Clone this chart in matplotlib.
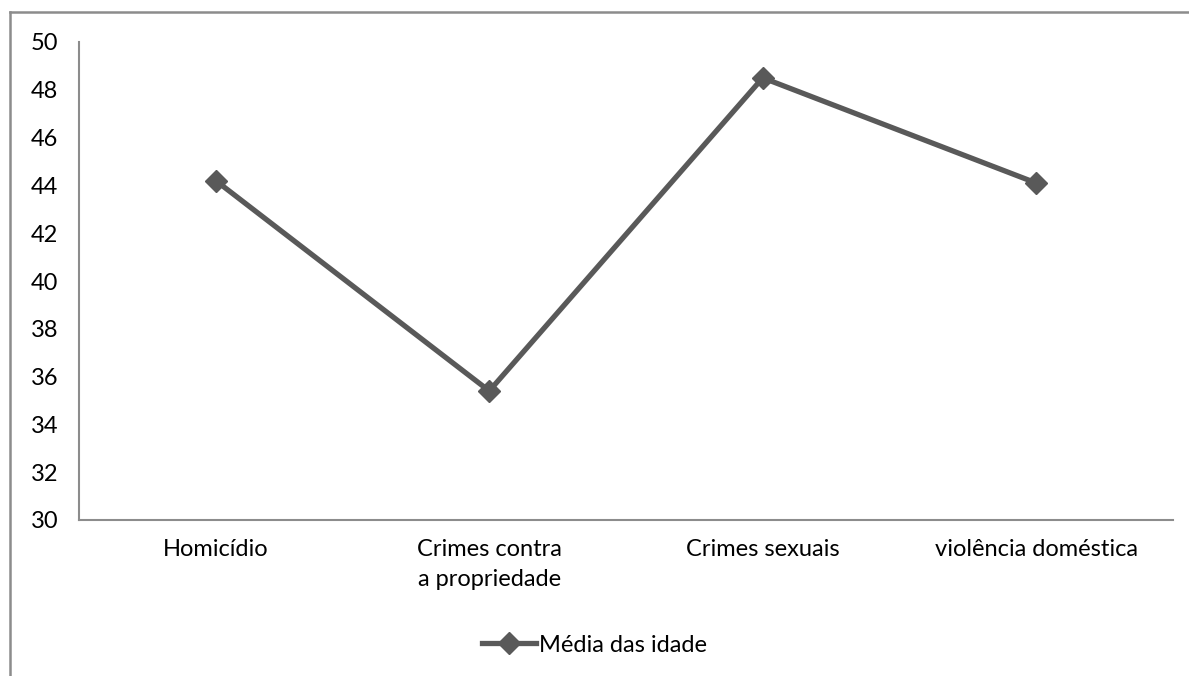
import matplotlib.pyplot as plt
from matplotlib.lines import Line2D

# Average age per crime type
categories = ["Homicídio", "Crimes contra\na propriedade", "Crimes sexuais", "violência doméstica"]
mean_age = [44.2, 35.4, 48.5, 44.1]
y_ticks = list(range(30, 51, 2))

plt.rcParams['font.family'] = ['Lato', 'DejaVu Sans']

W, H = 1189, 676
fig = plt.figure(figsize=(W / 100, H / 100), dpi=100)
ax = fig.add_axes([79 / W, 1 - 520 / H, (1173 - 79) / W, (520 - 42) / H])

x = [i + 0.5 for i in range(len(categories))]
ax.plot(x, mean_age, color="#595959", linewidth=3.8, marker="D", markersize=11,
        label="Média das idade")

ax.set_xlim(0, len(categories))
ax.set_ylim(30, 50)
ax.set_yticks(y_ticks)
ax.set_xticks(x)
ax.set_xticklabels(categories, fontsize=17, linespacing=1.5)
ax.tick_params(axis='y', labelsize=17, length=0, pad=15)
ax.tick_params(axis='x', length=0, pad=14)

for side in ("top", "right"):
    ax.spines[side].set_visible(False)
for side in ("left", "bottom"):
    ax.spines[side].set_color("#8c8c8c")
    ax.spines[side].set_linewidth(1.5)

leg = ax.legend(loc="center", bbox_to_anchor=(0.5, 1 - 645 / H), bbox_transform=fig.transFigure,
                frameon=False, fontsize=17, handlelength=2.3, handletextpad=0.1)

# Chart area border (left and top edges only fall inside the image)
fig.add_artist(Line2D([10 / W, 10 / W], [0, 1 - 12 / H], color="#8c8c8c", linewidth=1.8))
fig.add_artist(Line2D([10 / W, 1], [1 - 12 / H, 1 - 12 / H], color="#8c8c8c", linewidth=1.8))

fig.savefig("out.png", dpi=100)
